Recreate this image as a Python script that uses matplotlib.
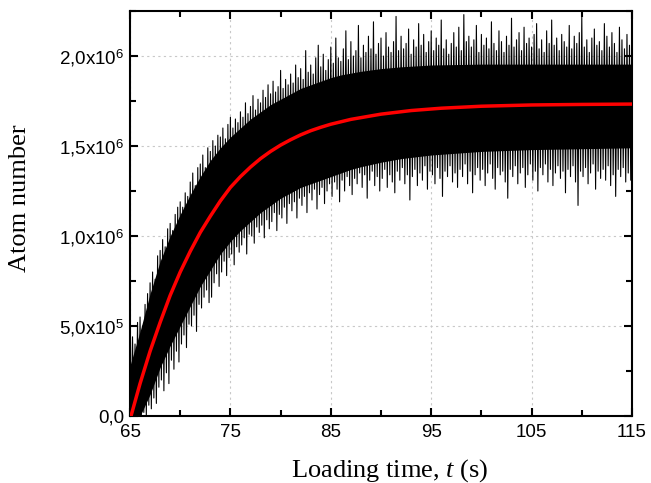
import numpy as np
import matplotlib
matplotlib.use("Agg")
import matplotlib.pyplot as plt
from matplotlib.ticker import FixedLocator, FixedFormatter, MultipleLocator

plt.rcParams["mathtext.fontset"] = "custom"
plt.rcParams["mathtext.rm"] = "Liberation Sans"
plt.rcParams["mathtext.it"] = "Liberation Serif:italic"

# solid part of the measured trace (atom number, units of 1e6)
core_t = [65, 66, 67, 68, 69, 70, 71, 72, 73, 74, 75, 76, 77, 78, 79, 80,
          81, 82, 83, 84, 85, 86, 87, 88, 90, 92, 95, 100, 105, 110, 115]
core_hi = [0.28, 0.47, 0.68, 0.86, 1.00, 1.12, 1.23, 1.33, 1.42, 1.49, 1.55, 1.60,
           1.65, 1.69, 1.73, 1.76, 1.79, 1.82, 1.84, 1.86, 1.88, 1.895, 1.905, 1.915,
           1.93, 1.94, 1.95, 1.955, 1.955, 1.955, 1.955]
core_lo = [0.00, 0.00, 0.12, 0.27, 0.39, 0.50, 0.61, 0.72, 0.81, 0.90, 0.97, 1.03,
           1.08, 1.13, 1.17, 1.21, 1.24, 1.27, 1.29, 1.31, 1.33, 1.35, 1.37, 1.385,
           1.41, 1.43, 1.45, 1.47, 1.48, 1.485, 1.49]

# noise peaks, t = 65.00 ... 115.00 every 0.25 s
peak_hi = [0.36, 0.44, 0.40, 0.52, 0.55, 0.50, 0.62, 0.68, 0.74, 0.80, 0.76, 0.89,
           0.92, 0.98, 0.94, 1.04, 1.07, 1.03, 1.12, 1.16, 1.19, 1.16, 1.24, 1.22,
           1.30, 1.35, 1.28, 1.38, 1.40, 1.45, 1.38, 1.49, 1.47, 1.53, 1.50, 1.56,
           1.55, 1.60, 1.54, 1.62, 1.66, 1.60, 1.65, 1.63, 1.69, 1.66, 1.74, 1.68,
           1.72, 1.78, 1.70, 1.76, 1.74, 1.81, 1.77, 1.84, 1.79, 1.86, 1.80, 1.83,
           1.92, 1.82, 1.87, 1.84, 1.90, 1.85, 1.95, 1.88, 1.93, 1.87, 2.03, 1.91,
           1.95, 1.90, 1.99, 2.06, 1.94, 2.01, 1.92, 1.98, 2.05, 1.96, 2.10, 1.99,
           1.97, 2.04, 2.14, 1.98, 2.08, 2.00, 2.03, 2.17, 1.99, 2.06, 2.02, 2.11,
           2.04, 2.19, 2.01, 2.07, 2.10, 2.00, 2.13, 2.05, 2.02, 2.08, 2.22, 2.03,
           2.11, 2.04, 2.07, 2.15, 2.01, 2.09, 2.05, 2.18, 2.06, 2.12, 2.02, 2.08,
           2.14, 2.03, 2.10, 2.06, 2.20, 2.04, 2.09, 2.01, 2.07, 2.13, 2.05, 2.16,
           2.03, 2.23, 2.08, 2.11, 2.05, 2.09, 2.17, 2.02, 2.12, 2.06, 2.10, 2.04,
           2.19, 2.07, 2.03, 2.14, 2.08, 2.02, 2.11, 2.06, 2.21, 2.05, 2.09, 2.13,
           2.03, 2.16, 2.07, 2.10, 2.05, 2.12, 2.18, 2.04, 2.09, 2.02, 2.14, 2.07,
           2.20, 2.06, 2.10, 2.03, 2.12, 2.08, 2.05, 2.17, 2.04, 2.11, 2.07, 2.13,
           2.22, 2.05, 2.09, 2.02, 2.10, 2.15, 2.06, 2.08, 2.03, 2.18, 2.11, 2.05,
           2.13, 2.07, 2.02, 2.16, 2.09, 2.04, 2.12, 2.06, 2.10]

# noise dips, t = 65.125 ... 114.875 every 0.25 s
dip_lo = [0.00, 0.00, 0.00, 0.00, 0.00, 0.02, 0.00, 0.06, 0.04, 0.10, 0.07, 0.16,
          0.20, 0.14, 0.24, 0.18, 0.31, 0.26, 0.36, 0.30, 0.40, 0.45, 0.38, 0.51,
          0.50, 0.56, 0.47, 0.62, 0.60, 0.66, 0.70, 0.63, 0.66, 0.74, 0.79, 0.72,
          0.80, 0.86, 0.78, 0.88, 0.90, 0.84, 0.94, 0.91, 0.95, 0.99, 0.90, 1.01,
          1.00, 0.96, 1.05, 1.02, 1.06, 0.99, 1.09, 1.04, 1.08, 1.13, 1.03, 1.12,
          1.10, 1.16, 1.07, 1.18, 1.14, 1.19, 1.10, 1.21, 1.17, 1.22, 1.13, 1.24,
          1.20, 1.26, 1.15, 1.23, 1.27, 1.18, 1.25, 1.29, 1.22, 1.30, 1.26, 1.19,
          1.31, 1.25, 1.33, 1.28, 1.23, 1.32, 1.29, 1.35, 1.27, 1.34, 1.21, 1.31,
          1.36, 1.28, 1.33, 1.25, 1.32, 1.37, 1.27, 1.34, 1.30, 1.24, 1.36, 1.31,
          1.38, 1.29, 1.34, 1.20, 1.33, 1.37, 1.28, 1.35, 1.31, 1.39, 1.26, 1.36,
          1.34, 1.29, 1.38, 1.32, 1.22, 1.36, 1.33, 1.39, 1.30, 1.35, 1.27, 1.37,
          1.33, 1.40, 1.29, 1.36, 1.24, 1.34, 1.38, 1.31, 1.37, 1.28, 1.35, 1.40,
          1.32, 1.26, 1.38, 1.34, 1.36, 1.30, 1.21, 1.37, 1.33, 1.39, 1.29, 1.35,
          1.38, 1.27, 1.34, 1.40, 1.31, 1.36, 1.25, 1.38, 1.34, 1.40, 1.30, 1.37,
          1.28, 1.35, 1.39, 1.32, 1.36, 1.24, 1.37, 1.33, 1.39, 1.30, 1.17, 1.36,
          1.33, 1.38, 1.29, 1.35, 1.40, 1.26, 1.36, 1.32, 1.37, 1.31, 1.39, 1.28,
          1.34, 1.22, 1.37, 1.33, 1.38, 1.30, 1.35, 1.31]
peak_t = [65.0 + 0.25 * i for i in range(len(peak_hi))]
dip_t = [65.125 + 0.25 * i for i in range(len(dip_lo))]

# loading fit (red curve)
fit_t = [65.1, 65.5, 66.0, 66.5, 67.0, 67.5, 68.0, 69.0, 70.0, 71.0, 72.0, 73.0,
         74.0, 75.0, 76.0, 77.0, 78.0, 79.0, 80.0, 81.0, 82.0, 83.0, 84.0, 85.0,
         87.0, 90.0, 93.0, 96.0, 100.0, 105.0, 110.0, 115.0]
fit_n = [0.00, 0.08, 0.18, 0.27, 0.36, 0.44, 0.52, 0.67, 0.80, 0.915, 1.02, 1.11,
         1.195, 1.27, 1.33, 1.383, 1.43, 1.47, 1.505, 1.535, 1.562, 1.585, 1.604, 1.621,
         1.648, 1.677, 1.697, 1.710, 1.721, 1.728, 1.731, 1.733]

y_ticks = [0, 5e5, 1e6, 1.5e6, 2e6]
y_tick_labels = ["0,0", r"5,0x10$^{5}$", r"1,0x10$^{6}$", r"1,5x10$^{6}$", r"2,0x10$^{6}$"]
x_ticks = [65, 75, 85, 95, 105, 115]

scale = 1e6

fig = plt.figure(figsize=(6.51, 4.83), dpi=100)
ax = fig.add_axes([0.1997, 0.1387, 0.9708 - 0.1997, 0.9772 - 0.1387])
ax.set_axisbelow(True)

ax.fill_between(core_t, np.array(core_lo) * scale, np.array(core_hi) * scale,
                color="black", lw=0, zorder=2)

# zigzag between peaks and dips -> noisy trace
zz_t = np.empty(len(peak_t) + len(dip_t))
zz_n = np.empty_like(zz_t)
zz_t[0::2] = peak_t
zz_t[1::2] = dip_t
zz_n[0::2] = np.array(peak_hi) * scale
zz_n[1::2] = np.array(dip_lo) * scale
ax.plot(zz_t, zz_n, color="black", lw=0.8, zorder=3)

ax.plot(fit_t, np.array(fit_n) * scale, color="red", lw=2.5, zorder=4)

ax.set_xlim(65, 115)
ax.set_ylim(0, 2.25e6)
ax.xaxis.set_major_locator(FixedLocator(x_ticks))
ax.xaxis.set_minor_locator(MultipleLocator(5))
ax.yaxis.set_major_locator(FixedLocator(y_ticks))
ax.yaxis.set_major_formatter(FixedFormatter(y_tick_labels))
ax.yaxis.set_minor_locator(MultipleLocator(2.5e5))

ax.grid(True, which="major", color="#c8c8c8", ls=(0, (2, 3)), lw=0.8)

for s in ax.spines.values():
    s.set_linewidth(1.5)
ax.tick_params(which="both", direction="in", top=True, right=True, width=1.5)
ax.tick_params(which="major", length=6)
ax.tick_params(which="minor", length=4)
ax.tick_params(axis="x", which="major", pad=6)
ax.tick_params(axis="y", which="major", pad=4)
for lab in ax.get_xticklabels() + ax.get_yticklabels():
    lab.set_fontfamily("Liberation Sans")
    lab.set_fontsize(13.5)

ax.set_xlabel("Loading time, $t$ (s)", fontfamily="Liberation Serif", fontsize=19)
ax.set_ylabel("Atom number", fontfamily="Liberation Serif", fontsize=19)
ax.xaxis.set_label_coords(0.518, -0.102)
ax.yaxis.set_label_coords(-0.197, 0.538)

fig.savefig("out.png", dpi=100)
